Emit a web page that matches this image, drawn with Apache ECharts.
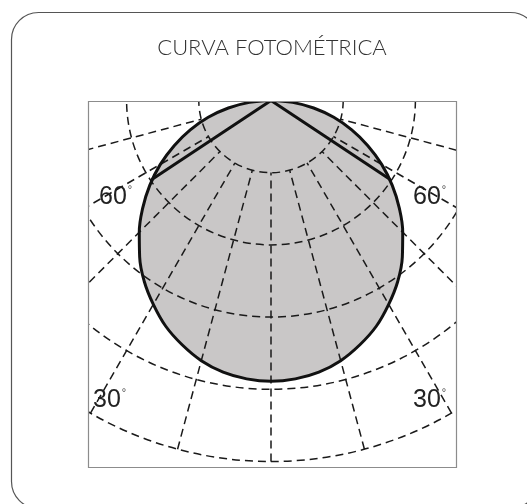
<!DOCTYPE html>
<html>
<head>
<meta charset="utf-8">
<script src="https://cdn.jsdelivr.net/npm/echarts@6/dist/echarts.min.js"></script>
<style>
  html, body { margin: 0; padding: 0; background: #fff; }
  #chart { width: 527px; height: 504px; }
</style>
</head>
<body>
<div id="chart"></div>
<script>
// gamma angle from the downward vertical, and the intensity read at each one
var gammaDeg = [0, 5, 10, 15, 20, 25, 30, 35, 40, 45, 50, 55, 60, 65, 70, 75, 80, 85, 90];
var intensity = [389, 387, 382, 373, 360, 345, 326, 306, 283, 258, 232, 205, 177, 148, 119, 90, 60, 30, 0];

// the two straight strokes from the lamp point out to the curve
var chordAngle = 56.5;
var chordValue = 198;

// rings and radial lines of the grid
var ringMax = 500;
var ringStep = 100;
var rayStep = 15;

var angleLabels = ["60°", "60°", "30°", "30°"];

var gridLine = { color: "#1a1a1a", width: 1.5, type: [8, 5] };

// curve data for both halves, right side negative
var curve = [];
for (var i = gammaDeg.length - 1; i > 0; i--) curve.push([intensity[i], -gammaDeg[i]]);
for (var j = 0; j < gammaDeg.length; j++) curve.push([intensity[j], gammaDeg[j]]);

var chords = [[chordValue, -chordAngle], [0, -chordAngle], [0, chordAngle], [chordValue, chordAngle]];

function degLabel(s) {
  return "{n|" + s.replace("°", "") + "}{d|°}";
}
var labelRich = {
  n: { fontSize: 25, fontFamily: "Liberation Sans", fill: "#222" },
  d: { fontSize: 11, fontFamily: "Liberation Sans", fill: "#444", verticalAlign: "top", padding: [0, 0, 12, 1] }
};
var labelPos = [[99, 197], [413, 197], [93, 400], [413, 400]];

var chart = echarts.init(document.getElementById("chart"));
chart.setOption({
  animation: false,
  polar: [
    { center: [271, 100.5], radius: 361 },
    { center: [271, 100.5], radius: [72, 361] }
  ],
  radiusAxis: [
    {
      polarIndex: 0, type: "value", min: 0, max: ringMax, interval: ringStep, z: 2,
      axisLine: { show: false }, axisTick: { show: false }, axisLabel: { show: false },
      splitLine: { show: true, lineStyle: gridLine }
    },
    {
      polarIndex: 1, type: "value", min: 0, max: ringMax, z: 2,
      axisLine: { show: false }, axisTick: { show: false }, axisLabel: { show: false },
      splitLine: { show: false }
    }
  ],
  angleAxis: [
    {
      polarIndex: 0, type: "value", min: -180, max: 180, startAngle: 90, clockwise: true, z: 2,
      axisLine: { show: false }, axisTick: { show: false }, axisLabel: { show: false },
      splitLine: { show: false }
    },
    {
      polarIndex: 1, type: "value", min: -180, max: 180, interval: rayStep, startAngle: 90, clockwise: true, z: 2,
      axisLine: { show: false }, axisTick: { show: false }, axisLabel: { show: false },
      splitLine: { show: true, lineStyle: gridLine }
    }
  ],
  series: [
    {
      type: "line", coordinateSystem: "polar", polarIndex: 0, data: curve,
      smooth: 0.4, symbol: "none", z: 1,
      lineStyle: { width: 0 },
      areaStyle: { color: "#c9c7c7", opacity: 1 }
    },
    {
      type: "line", coordinateSystem: "polar", polarIndex: 0, data: curve,
      smooth: 0.4, symbol: "none", z: 3,
      lineStyle: { color: "#111", width: 3 }
    },
    {
      type: "line", coordinateSystem: "polar", polarIndex: 0, data: chords,
      symbol: "none", z: 3,
      lineStyle: { color: "#111", width: 3 }
    }
  ],
  graphic: [
    // white masks so the grid stays inside the square
    { type: "rect", z: 100, silent: true, shape: { x: 0, y: 0, width: 527, height: 101 }, style: { fill: "#fff" } },
    { type: "rect", z: 100, silent: true, shape: { x: 0, y: 468, width: 527, height: 36 }, style: { fill: "#fff" } },
    { type: "rect", z: 100, silent: true, shape: { x: 0, y: 0, width: 88, height: 504 }, style: { fill: "#fff" } },
    { type: "rect", z: 100, silent: true, shape: { x: 457, y: 0, width: 70, height: 504 }, style: { fill: "#fff" } },
    { type: "rect", z: 101, silent: true, shape: { x: 88.5, y: 101.5, width: 368, height: 366 }, style: { fill: null, stroke: "#8c8c8c", lineWidth: 1.2 } },
    { type: "rect", z: 101, silent: true, shape: { x: 11.5, y: 12.5, width: 526, height: 496, r: 27 }, style: { fill: null, stroke: "#555", lineWidth: 1.2 } },
    {
      type: "text", z: 102, silent: true, x: 272, y: 48,
      style: {
        text: "CURVA FOTOMÉTRICA", fontFamily: "Lato", fontWeight: 300, fontSize: 22, fill: "#333",
        align: "center", verticalAlign: "middle"
      }
    }
  ].concat(angleLabels.map(function (s, k) {
    return {
      type: "text", z: 102, silent: true, x: labelPos[k][0], y: labelPos[k][1],
      style: { text: degLabel(s), rich: labelRich, verticalAlign: "middle" }
    };
  }))
});
</script>
</body>
</html>
